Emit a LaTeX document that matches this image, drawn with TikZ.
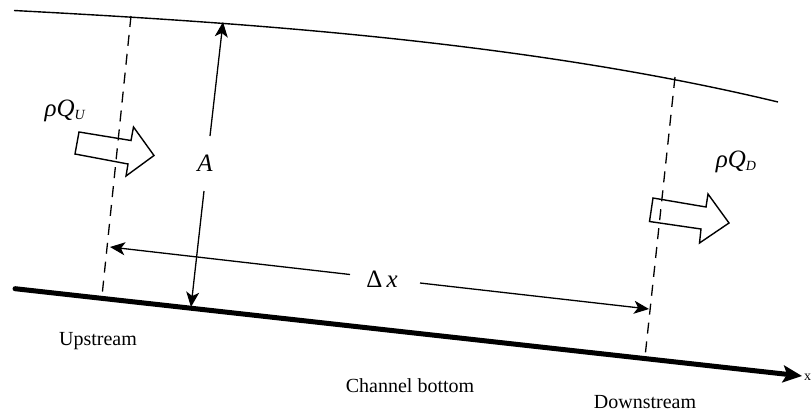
\documentclass[tikz,border=0pt]{standalone}
\usepackage{fontspec}
\setmainfont{Liberation Serif}
\usepackage{xcolor}
\usetikzlibrary{arrows.meta, positioning, calc}

\newcommand{\flowlabel}[1]{\textit{ρQ}\raisebox{-3pt}{\fontsize{14}{14}\selectfont\textit{#1}}}

\begin{document}
\begin{tikzpicture}[
  x=1pt, y=-1pt,
  >={Stealth[length=15pt, width=13pt, inset=4pt]},
  lbl/.style={font=\fontsize{20}{22}\selectfont, inner sep=0pt},
  mathlbl/.style={font=\fontsize{25}{27}\selectfont, inner sep=0pt},
  section line/.style={line width=1.3pt, dash pattern=on 11pt off 8pt},
  dim line/.style={line width=1.3pt, ->},
  flow/.style={line width=1.4pt, line join=miter}
]
\useasboundingbox (0,0) rectangle (811,415);

% Water surface
\draw[line width=1.4pt] (14,10.5) .. controls (230,22) and (520,40) .. (778,102);

% Channel bottom
\coordinate (bedL) at (15,288.7);
\coordinate (bedR) at (802,376);
\draw[line width=5pt, line cap=round, -{Stealth[length=19pt, width=17pt, inset=4pt]}] (bedL) -- (bedR);

% Upstream and downstream sections
\coordinate (usT) at (131,16);
\coordinate (usB) at (102,296);
\coordinate (dsT) at (675,77);
\coordinate (dsB) at (645,357);
\draw[section line] (usT) -- (usB);
\draw[section line] (dsT) -- (dsB);

% Area arrow
\node[mathlbl, font=\fontsize{25}{27}\selectfont\itshape] (areaA) at (205,163) {A};
\coordinate (areaT) at (223,22);
\coordinate (areaB) at (191,307);
\coordinate (areaU) at (210,136);
\coordinate (areaD) at (204,191);
\draw[dim line] (areaU) -- (areaT);
\draw[dim line] (areaD) -- (areaB);

% Length arrow
\node[mathlbl] (dx) at (382,279) {Δ\,\textit{x}};
\coordinate (dxL) at (110,247);
\coordinate (dxR) at (649,309);
\coordinate (dxLi) at (350,274.5);
\coordinate (dxRi) at (420,283);
\draw[dim line] (dxLi) -- (dxL);
\draw[dim line] (dxRi) -- (dxR);

% Block arrows
\draw[flow] (79,132) -- (75,154) -- (128,164) -- (126,176) -- (154,155.5) -- (133.5,127) -- (131,140.5) -- cycle;
\draw[flow] (653,198) -- (649.5,221.5) -- (701,229) -- (699.5,243) -- (729,223) -- (708,194) -- (706,207) -- cycle;

% Labels
\node[mathlbl] (rhoU) at (65,111) {\flowlabel{U}};
\node[mathlbl] (rhoD) at (736,162) {\flowlabel{D}};
\node[lbl] (upLbl) at (98,341) {Upstream};
\node[lbl] (botLbl) at (410,386) {Channel bottom};
\node[lbl] (downLbl) at (645,402) {Downstream};
\node[lbl, anchor=west, font=\fontsize{14}{16}\selectfont] (xLbl) at (804,377) {x};

\end{tikzpicture}
\end{document}
